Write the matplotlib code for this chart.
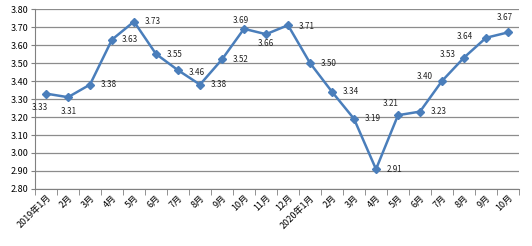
import matplotlib.pyplot as plt
import numpy as np

plt.rcParams['font.family'] = ['Noto Sans CJK SC', 'DejaVu Sans']

months = ['2019年1月', '2月', '3月', '4月', '5月', '6月', '7月', '8月', '9月', '10月', '11月', '12月',
          '2020年1月', '2月', '3月', '4月', '5月', '6月', '7月', '8月', '9月', '10月']
values = [3.33, 3.31, 3.38, 3.63, 3.73, 3.55, 3.46, 3.38, 3.52, 3.69, 3.66, 3.71,
          3.50, 3.34, 3.19, 2.91, 3.21, 3.23, 3.40, 3.53, 3.64, 3.67]

# data label offsets from each point, in pixels (x right, y up)
label_off = [(-6, -14), (1, -14), (19, 0), (18, 0), (19, 0), (19, 0), (19, -2), (19, 0),
             (19, 0), (-3, 8), (0, -9), (19, -1), (19, 0), (19, 0), (19, 0), (19, 0),
             (-7, 12), (19, 0), (-17, 5), (-16, 3), (-21, 1), (-3, 15)]

fig = plt.figure(figsize=(5.32, 2.46), dpi=100)
ax = fig.add_axes([35 / 532, 1 - 189 / 246, 484 / 532, 180 / 246])

x = np.arange(len(values))
ax.plot(x, values, color='#4A7EBB', lw=1.8, marker='D', ms=4.5, mfc='#4A7EBB', mec='#4A7EBB')

for xi, v, (dx, dy) in zip(x, values, label_off):
    ax.annotate(f'{v:.2f}', (xi, v), xytext=(dx * 0.72, dy * 0.72), textcoords='offset points',
                ha='center', va='center', fontsize=5.8, color='#222222')

ax.set_xlim(-0.5, len(values) - 0.5)
ax.set_ylim(2.80, 3.80)
ticks = np.arange(2.80, 3.81, 0.10)
ax.set_yticks(ticks)
ax.set_yticklabels([f'{t:.2f}' for t in ticks], fontsize=6.5)
ax.yaxis.grid(True, color='#8c8c8c', lw=0.9)
ax.set_axisbelow(True)

ax.set_xticks(x)
ax.set_xticklabels(months, rotation=45, ha='right', rotation_mode='anchor', fontsize=6.5)
ax.tick_params(axis='x', length=0, pad=3)
ax.set_xticks(np.arange(-0.5, len(values), 1.0), minor=True)
ax.tick_params(axis='x', which='minor', length=4, color='#808080')
ax.tick_params(axis='y', length=3, color='#808080', pad=2)

for s in ['top', 'right']:
    ax.spines[s].set_visible(False)
for s in ['left', 'bottom']:
    ax.spines[s].set_color('#808080')

fig.savefig('out.png', dpi=100)
